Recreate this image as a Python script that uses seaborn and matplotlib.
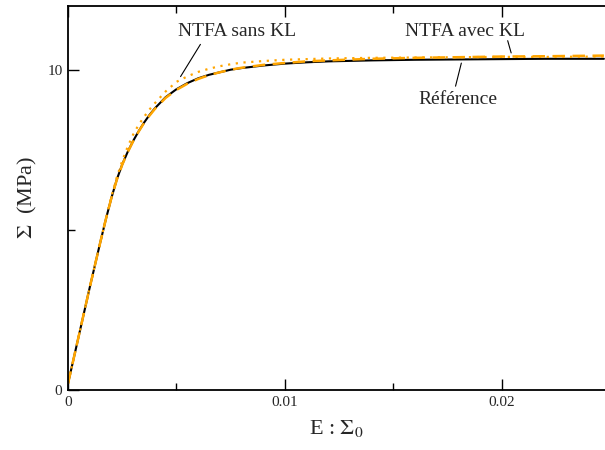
import matplotlib
matplotlib.use("Agg")
import matplotlib.pyplot as plt
import seaborn as sns
from matplotlib.ticker import MultipleLocator, FuncFormatter

strain = [0, 0.0005, 0.001, 0.0015, 0.00175, 0.002, 0.00225, 0.0025, 0.00275,
          0.003, 0.00325, 0.0035, 0.00375, 0.004, 0.0045,
          0.005, 0.0055, 0.006, 0.0065, 0.007, 0.0075, 0.008, 0.009, 0.010, 0.011,
          0.012, 0.014, 0.016, 0.018, 0.020, 0.022, 0.0247]
reference = [0.2, 1.7, 3.2, 4.65, 5.35, 6.0, 6.58, 7.05, 7.44,
             7.78, 8.08, 8.35, 8.59, 8.8, 9.15,
             9.4, 9.59, 9.74, 9.85, 9.93, 10.01, 10.06, 10.14, 10.2, 10.24,
             10.27, 10.3, 10.32, 10.33, 10.34, 10.35, 10.35]
ntfa_sans_kl = [0.2, 1.7, 3.2, 4.65, 5.36, 6.04, 6.65, 7.16, 7.6,
                7.98, 8.28, 8.53, 8.76, 8.96, 9.33,
                9.63, 9.8, 9.94, 10.04, 10.12, 10.18, 10.23, 10.28, 10.32, 10.34,
                10.36, 10.38, 10.39, 10.4, 10.41, 10.41, 10.42]
ntfa_avec_kl = [0.2, 1.7, 3.2, 4.65, 5.35, 6.0, 6.57, 7.04, 7.43,
                7.77, 8.07, 8.34, 8.57, 8.78, 9.13,
                9.38, 9.57, 9.72, 9.84, 9.93, 10.01, 10.07, 10.16, 10.22, 10.27,
                10.3, 10.35, 10.38, 10.4, 10.42, 10.43, 10.45]

sns.set_theme(style="ticks")
plt.rcParams['font.family'] = ['Liberation Serif', 'DejaVu Serif']
plt.rcParams['mathtext.fontset'] = 'stix'

fig = plt.figure(figsize=(6.05, 4.5), dpi=100)
ax = fig.add_axes([68/605, 60/450, 1 - 68/605, 384/450])

sns.lineplot(x=strain, y=reference, ax=ax, color="black", lw=1.5)
sns.lineplot(x=strain, y=ntfa_avec_kl, ax=ax, color="#FFA500", lw=1.8,
             linestyle=(0, (5, 3)))
sns.lineplot(x=strain, y=ntfa_sans_kl, ax=ax, color="#FFA500", lw=1.6,
             linestyle=(0, (1, 2.5)))

ax.set_xlim(0, 0.02475)
ax.set_ylim(0, 12)
ax.xaxis.set_major_locator(MultipleLocator(0.01))
ax.xaxis.set_minor_locator(MultipleLocator(0.005))
ax.yaxis.set_major_locator(MultipleLocator(10))
ax.yaxis.set_minor_locator(MultipleLocator(5))
ax.xaxis.set_major_formatter(FuncFormatter(
    lambda v, p: "0" if abs(v) < 1e-12 else f"{v:g}"))
ax.yaxis.set_major_formatter(FuncFormatter(lambda v, p: f"{v:g}"))
ax.tick_params(which='both', direction='in', top=True, right=False,
               labelsize=11, width=1, color='black', pad=4)
ax.tick_params(which='major', length=8)
ax.tick_params(which='minor', length=5)
for s in ['left', 'bottom', 'top']:
    ax.spines[s].set_color('black')
    ax.spines[s].set_linewidth(1.3)
ax.spines['right'].set_visible(False)

ax.set_xlabel(r"E : $\Sigma_0$", fontsize=16, labelpad=7)
ax.set_ylabel(r"$\Sigma$  (MPa)", fontsize=16, labelpad=6)

ax.text(0.0078, 11.19, "NTFA sans KL", ha='center', va='center', fontsize=14)
ax.annotate("", xy=(0.00512, 9.72), xytext=(0.00617, 10.875),
            arrowprops=dict(arrowstyle='-', lw=0.8, color='black'))
ax.text(0.0183, 11.19, "NTFA avec KL", ha='center', va='center', fontsize=14)
ax.annotate("", xy=(0.02046, 10.45), xytext=(0.02023, 11.0),
            arrowprops=dict(arrowstyle='-', lw=0.8, color='black'))
ax.text(0.01797, 9.09, "Référence", ha='center', va='center', fontsize=14)
ax.annotate("", xy=(0.01816, 10.3), xytext=(0.01783, 9.41),
            arrowprops=dict(arrowstyle='-', lw=0.8, color='black'))

fig.savefig("out.png", dpi=100)
